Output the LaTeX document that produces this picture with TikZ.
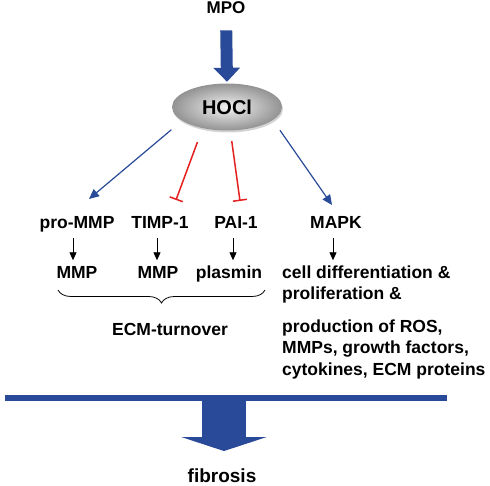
\documentclass[tikz,border=0pt]{standalone}
\usepackage{fontspec}
\setmainfont{Liberation Sans}
\usetikzlibrary{arrows.meta,shapes.geometric,shadows,decorations.pathreplacing}
\definecolor{arrblue}{RGB}{41,74,152}
\definecolor{inhred}{RGB}{228,32,32}

\begin{document}
\begin{tikzpicture}[x=1pt,y=-1pt,
    lbl/.style={font=\fontsize{17.5}{21}\selectfont\bfseries, inner sep=0pt,
        text height=12.5pt, text depth=3.7pt, anchor=base},
    txt/.style={font=\fontsize{17.5}{21.3}\selectfont\bfseries, inner sep=0pt,
        align=left, anchor=base west},
    act/.style={arrblue, line width=1.2pt, -{Triangle[length=10pt,width=9pt]}},
    inh/.style={inhred, line width=1.5pt, -{Bar[width=14pt,line width=1.5pt]}},
    dwn/.style={black, line width=0.9pt, -{Triangle[length=8pt,width=7pt]},
        shorten <=5.5pt, shorten >=6pt}]
    \useasboundingbox (0,0) rectangle (490,486);

    \node[font=\fontsize{17}{21}\selectfont\bfseries, inner sep=0pt, anchor=base]
        (mpo) at (226,14) {MPO};
    \node[ellipse, minimum width=110pt, minimum height=47pt, inner sep=0pt,
        shading=radial, inner color=gray!10, outer color=gray!85,
        drop shadow={opacity=0.35, shadow xshift=1pt, shadow yshift=-2pt},
        font=\fontsize{20}{24}\selectfont\bfseries] (hocl) at (227,107) {HOCl};
    \draw[arrblue, line width=12pt, -{Triangle[length=14pt,width=26pt]},
        shorten <=16pt, shorten >=1.5pt] (mpo.south) -- (hocl.north);

    % first row
    \node[lbl] (promm) at (77,229) {pro-MMP};
    \node[lbl] (timp) at (160,229) {TIMP-1};
    \node[lbl] (pai) at (236,229) {PAI-1};
    \node[lbl] (mapk) at (336,229) {MAPK};

    \coordinate (e1) at (89,199);
    \coordinate (e2) at (176,200);
    \coordinate (e3) at (240,201);
    \coordinate (e4) at (332,205);
    \draw[act, shorten <=14pt] (hocl.197.6) -- (e1);
    \draw[inh, shorten <=14.8pt] (hocl.221.7) -- (e2);
    \draw[inh, shorten <=10.6pt] (hocl.278.7) -- (e3);
    \draw[act, shorten <=12.3pt] (hocl.344.3) -- (e4);

    % second row
    \node[lbl] (mmpa) at (77,279) {MMP};
    \node[lbl] (mmpb) at (158,279) {MMP};
    \node[lbl] (plasmin) at (229,279) {plasmin};
    \node[txt] (cell) at (282,300) {cell differentiation \&\\proliferation \&};
    \node[txt] (prod) at (282,375) {production of ROS,\\MMPs, growth factors,\\cytokines, ECM proteins};

    \draw[dwn] ([xshift=-4pt]promm.south) -- ([xshift=-4pt]promm.south |- mmpa.north);
    \draw[dwn] ([xshift=-3pt]timp.south) -- ([xshift=-3pt]timp.south |- mmpb.north);
    \draw[dwn] ([xshift=-3pt]pai.south) -- ([xshift=-3pt]pai.south |- plasmin.north);
    \draw[dwn] ([xshift=-3pt]mapk.south) -- ([xshift=-3pt]mapk.south |- mmpa.north);

    \draw[decorate, decoration={brace, mirror, amplitude=13pt}, line width=0.8pt]
        (58,290) -- (265,290);
    \node[lbl] (ecm) at (170,335) {ECM-turnover};

    % bottom
    \node[font=\fontsize{19}{23}\selectfont\bfseries, inner sep=0pt, anchor=base]
        (fibrosis) at (222,482) {fibrosis};
    \coordinate (barmid) at (224,398);
    \draw[arrblue, line width=44pt, -{Triangle[length=14pt,width=85pt]},
        shorten >=17pt] (barmid) -- (barmid |- fibrosis.north);
    \draw[arrblue, line width=6pt] (5,398) -- (447,398);
\end{tikzpicture}
\end{document}
